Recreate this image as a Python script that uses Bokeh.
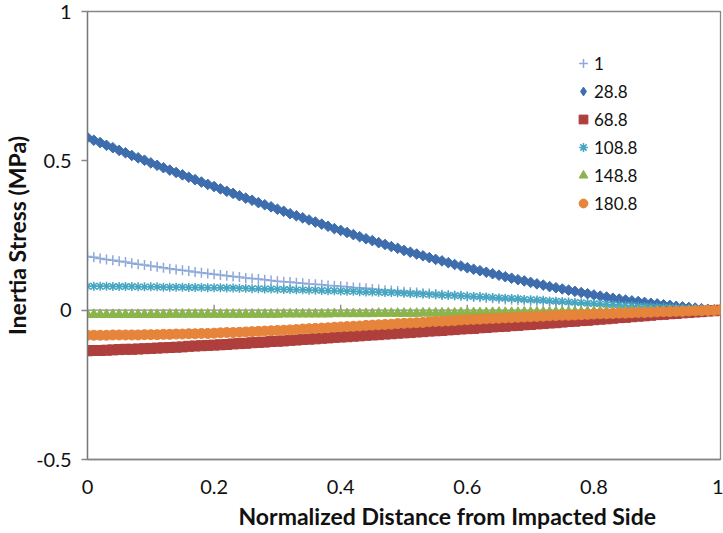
import numpy as np
from bokeh.plotting import figure
from bokeh.models import Range1d, FixedTicker, Span, Legend, LegendItem, Title
from bokeh.embed import file_html
from bokeh.resources import INLINE

# Normalized distance from the impacted side (sampling positions)
distance = [
    0.00, 0.01, 0.02, 0.03, 0.04, 0.05, 0.06, 0.07, 0.08, 0.09,
    0.10, 0.11, 0.12, 0.13, 0.14, 0.15, 0.16, 0.17, 0.18, 0.19,
    0.20, 0.21, 0.22, 0.23, 0.24, 0.25, 0.26, 0.27, 0.28, 0.29,
    0.30, 0.31, 0.32, 0.33, 0.34, 0.35, 0.36, 0.37, 0.38, 0.39,
    0.40, 0.41, 0.42, 0.43, 0.44, 0.45, 0.46, 0.47, 0.48, 0.49,
    0.50, 0.51, 0.52, 0.53, 0.54, 0.55, 0.56, 0.57, 0.58, 0.59,
    0.60, 0.61, 0.62, 0.63, 0.64, 0.65, 0.66, 0.67, 0.68, 0.69,
    0.70, 0.71, 0.72, 0.73, 0.74, 0.75, 0.76, 0.77, 0.78, 0.79,
    0.80, 0.81, 0.82, 0.83, 0.84, 0.85, 0.86, 0.87, 0.88, 0.89,
    0.90, 0.91, 0.92, 0.93, 0.94, 0.95, 0.96, 0.97, 0.98, 0.99,
    1.00,
]

# Inertia stress (MPa) at each time step
stress_1 = [
    0.180, 0.177, 0.173, 0.170, 0.167, 0.164, 0.161, 0.157, 0.154, 0.151,
    0.148, 0.145, 0.142, 0.139, 0.136, 0.134, 0.131, 0.128, 0.125, 0.123,
    0.120, 0.118, 0.115, 0.113, 0.111, 0.108, 0.106, 0.104, 0.102, 0.099,
    0.097, 0.095, 0.094, 0.092, 0.090, 0.088, 0.087, 0.085, 0.083, 0.082,
    0.080, 0.078, 0.076, 0.075, 0.073, 0.071, 0.069, 0.067, 0.066, 0.064,
    0.062, 0.060, 0.059, 0.057, 0.056, 0.054, 0.052, 0.051, 0.049, 0.048,
    0.046, 0.044, 0.043, 0.041, 0.040, 0.038, 0.036, 0.035, 0.033, 0.032,
    0.030, 0.029, 0.027, 0.026, 0.025, 0.023, 0.022, 0.021, 0.020, 0.018,
    0.017, 0.016, 0.015, 0.014, 0.013, 0.012, 0.011, 0.010, 0.009, 0.008,
    0.007, 0.006, 0.006, 0.005, 0.004, 0.004, 0.003, 0.002, 0.001, 0.001,
    0.000,
]

stress_28_8 = [
    0.578, 0.569, 0.561, 0.552, 0.544, 0.535, 0.527, 0.518, 0.510, 0.502,
    0.493, 0.485, 0.477, 0.469, 0.461, 0.453, 0.445, 0.437, 0.429, 0.421,
    0.414, 0.406, 0.398, 0.391, 0.383, 0.375, 0.368, 0.360, 0.353, 0.346,
    0.338, 0.331, 0.323, 0.316, 0.309, 0.302, 0.295, 0.288, 0.281, 0.273,
    0.267, 0.260, 0.253, 0.246, 0.239, 0.233, 0.226, 0.220, 0.213, 0.207,
    0.200, 0.194, 0.188, 0.182, 0.176, 0.170, 0.165, 0.159, 0.153, 0.148,
    0.142, 0.137, 0.132, 0.127, 0.122, 0.117, 0.112, 0.107, 0.102, 0.098,
    0.093, 0.088, 0.084, 0.079, 0.075, 0.071, 0.067, 0.063, 0.059, 0.055,
    0.051, 0.047, 0.044, 0.040, 0.037, 0.034, 0.031, 0.029, 0.026, 0.023,
    0.021, 0.018, 0.016, 0.013, 0.011, 0.009, 0.007, 0.005, 0.003, 0.001,
    0.000,
]

stress_68_8 = [
    -0.136, -0.135, -0.135, -0.134, -0.133, -0.132, -0.131, -0.131, -0.130, -0.129,
    -0.128, -0.127, -0.126, -0.125, -0.124, -0.123, -0.121, -0.120, -0.119, -0.118,
    -0.117, -0.116, -0.115, -0.113, -0.112, -0.111, -0.109, -0.108, -0.107, -0.105,
    -0.104, -0.103, -0.101, -0.100, -0.098, -0.097, -0.096, -0.094, -0.093, -0.091,
    -0.090, -0.089, -0.087, -0.086, -0.084, -0.083, -0.082, -0.080, -0.079, -0.077,
    -0.076, -0.075, -0.073, -0.072, -0.070, -0.069, -0.068, -0.066, -0.065, -0.063,
    -0.062, -0.061, -0.059, -0.058, -0.056, -0.055, -0.054, -0.052, -0.051, -0.049,
    -0.048, -0.046, -0.045, -0.043, -0.042, -0.040, -0.038, -0.037, -0.035, -0.034,
    -0.032, -0.030, -0.029, -0.027, -0.025, -0.024, -0.022, -0.020, -0.019, -0.017,
    -0.015, -0.014, -0.012, -0.011, -0.009, -0.008, -0.006, -0.005, -0.003, -0.002,
    0.000,
]

stress_108_8 = [
    0.080, 0.080, 0.080, 0.080, 0.079, 0.079, 0.079, 0.079, 0.078, 0.078,
    0.078, 0.078, 0.077, 0.077, 0.077, 0.077, 0.076, 0.076, 0.076, 0.075,
    0.075, 0.075, 0.074, 0.074, 0.073, 0.073, 0.072, 0.072, 0.071, 0.071,
    0.070, 0.069, 0.069, 0.068, 0.068, 0.067, 0.067, 0.066, 0.065, 0.065,
    0.064, 0.063, 0.063, 0.062, 0.061, 0.061, 0.060, 0.059, 0.059, 0.058,
    0.057, 0.056, 0.055, 0.054, 0.053, 0.052, 0.051, 0.050, 0.049, 0.048,
    0.047, 0.046, 0.045, 0.044, 0.042, 0.041, 0.040, 0.039, 0.038, 0.036,
    0.035, 0.034, 0.033, 0.031, 0.030, 0.029, 0.027, 0.026, 0.025, 0.023,
    0.022, 0.021, 0.019, 0.018, 0.017, 0.016, 0.015, 0.013, 0.012, 0.011,
    0.010, 0.009, 0.008, 0.007, 0.006, 0.005, 0.004, 0.003, 0.002, 0.001,
    0.000,
]

stress_148_8 = [
    -0.015, -0.015, -0.015, -0.015, -0.015, -0.015, -0.015, -0.015, -0.015, -0.015,
    -0.015, -0.015, -0.015, -0.014, -0.014, -0.014, -0.014, -0.014, -0.014, -0.014,
    -0.014, -0.014, -0.014, -0.014, -0.014, -0.014, -0.014, -0.014, -0.014, -0.014,
    -0.014, -0.013, -0.013, -0.013, -0.013, -0.013, -0.013, -0.013, -0.013, -0.012,
    -0.012, -0.012, -0.012, -0.012, -0.012, -0.012, -0.011, -0.011, -0.011, -0.011,
    -0.011, -0.011, -0.011, -0.010, -0.010, -0.010, -0.010, -0.010, -0.010, -0.009,
    -0.009, -0.009, -0.009, -0.009, -0.008, -0.008, -0.008, -0.008, -0.008, -0.007,
    -0.007, -0.007, -0.007, -0.007, -0.006, -0.006, -0.006, -0.006, -0.006, -0.005,
    -0.005, -0.005, -0.005, -0.005, -0.004, -0.004, -0.004, -0.004, -0.003, -0.003,
    -0.003, -0.003, -0.002, -0.002, -0.002, -0.002, -0.001, -0.001, -0.001, -0.001,
    0.000,
]

stress_180_8 = [
    -0.084, -0.084, -0.084, -0.084, -0.083, -0.083, -0.083, -0.083, -0.083, -0.082,
    -0.082, -0.082, -0.081, -0.081, -0.080, -0.080, -0.079, -0.079, -0.078, -0.078,
    -0.077, -0.076, -0.075, -0.075, -0.074, -0.073, -0.072, -0.071, -0.070, -0.069,
    -0.068, -0.067, -0.066, -0.065, -0.063, -0.062, -0.061, -0.060, -0.059, -0.057,
    -0.056, -0.055, -0.054, -0.053, -0.051, -0.050, -0.049, -0.048, -0.047, -0.045,
    -0.044, -0.043, -0.042, -0.041, -0.039, -0.038, -0.037, -0.036, -0.035, -0.033,
    -0.032, -0.031, -0.030, -0.029, -0.028, -0.027, -0.026, -0.025, -0.024, -0.023,
    -0.022, -0.021, -0.020, -0.019, -0.018, -0.017, -0.017, -0.016, -0.015, -0.014,
    -0.013, -0.012, -0.012, -0.011, -0.010, -0.010, -0.009, -0.008, -0.008, -0.007,
    -0.006, -0.005, -0.005, -0.004, -0.004, -0.003, -0.002, -0.002, -0.001, -0.001,
    0.000,
]

series_names = ["1", "28.8", "68.8", "108.8", "148.8", "180.8"]
series_values = [stress_1, stress_28_8, stress_68_8, stress_108_8, stress_148_8, stress_180_8]

x_ticks = [0, 0.2, 0.4, 0.6, 0.8, 1]
x_tick_labels = ["0", "0.2", "0.4", "0.6", "0.8", "1"]
y_ticks = [-0.5, 0, 0.5, 1]
y_tick_labels = ["-0.5", "0", "0.5", "1"]
zero_axis_ticks = [0.2, 0.4, 0.6, 0.8]

FONT = "Lato"
AXIS_GRAY = "#868686"
TEXT = "#111111"

# marker style per series: (marker in plot, size, angle, legend key marker, colour)
styles = [
    ("cross", 10, 0.0, "cross", "#8EA8DA"),
    ("square", 7.5, 0.785398, "diamond", "#3E6DAE"),
    ("square", 10, 0.0, "square", "#AE3F3D"),
    ("asterisk", 9, 0.0, "asterisk", "#46A6C2"),
    ("triangle", 10, 0.0, "triangle", "#8BB54B"),
    ("circle", 10, 0.0, "circle", "#E5843A"),
]

p = figure(
    width=723, height=533,
    output_backend="svg", toolbar_location=None,
    x_range=Range1d(0, 1), y_range=Range1d(-0.5, 1),
    min_border_left=86, min_border_right=3,
    min_border_top=11, min_border_bottom=74,
    background_fill_color="white", border_fill_color="white",
)
p.grid.visible = False
p.outline_line_color = AXIS_GRAY
p.outline_line_width = 1.3

# horizontal axis line through zero with its small tick marks
p.add_layout(Span(location=0, dimension="width", line_color=AXIS_GRAY,
                  line_width=1.3, level="underlay"))
p.segment(x0=zero_axis_ticks, x1=zero_axis_ticks,
          y0=[0] * len(zero_axis_ticks), y1=[0.018] * len(zero_axis_ticks),
          line_color=AXIS_GRAY, line_width=1.3)


def marker_kwargs(marker, color):
    if marker in ("cross", "asterisk"):
        return dict(line_color=color, line_width=1.5, fill_color=None)
    return dict(line_color=color, fill_color=color, line_width=1)


items = []
for name, vals, (marker, size, angle, key_marker, color) in zip(series_names, series_values, styles):
    r = p.scatter(distance, vals, marker=marker, size=size, angle=angle,
                  **marker_kwargs(marker, color))
    if key_marker != marker:
        # rotated markers lose their angle in the legend, so the key gets its own
        # (undrawn) renderer with the upright marker shape
        r = p.scatter(np.array([np.nan]), np.array([np.nan]), marker=key_marker,
                      size=size, **marker_kwargs(key_marker, color))
    items.append(LegendItem(label=name, renderers=[r]))

legend = Legend(items=items, location=(485, 245),
                glyph_width=22, glyph_height=22, spacing=6, label_standoff=0,
                padding=0, margin=0, border_line_alpha=0, background_fill_alpha=0,
                label_text_font=FONT, label_text_font_size="17px",
                label_text_color=TEXT)
p.add_layout(legend, "center")

# x axis
xa = p.xaxis[0]
xa.ticker = FixedTicker(ticks=x_ticks)
xa.major_label_overrides = dict(zip(x_ticks, x_tick_labels))
xa.major_tick_out = 0
xa.major_tick_in = 0
xa.minor_tick_out = 0
xa.minor_tick_in = 0
xa.axis_line_color = AXIS_GRAY
xa.axis_line_width = 1.3
xa.major_label_standoff = 20
xa.major_label_text_font = FONT
xa.major_label_text_font_size = "20px"
xa.major_label_text_color = TEXT

# x axis title, set right of the frame centre
p.add_layout(Title(text="Normalized Distance from Impacted Side", align="left",
                   offset=151, text_font=FONT, text_font_style="bold",
                   text_font_size="23px", text_color=TEXT, standoff=6), "below")

# y axis
ya = p.yaxis[0]
ya.ticker = FixedTicker(ticks=y_ticks)
ya.major_label_overrides = dict(zip(y_ticks, y_tick_labels))
ya.major_tick_out = 6
ya.major_tick_in = 0
ya.minor_tick_out = 0
ya.minor_tick_in = 0
ya.major_tick_line_color = AXIS_GRAY
ya.major_tick_line_width = 1.3
ya.axis_line_color = "#777777"
ya.axis_line_width = 1.3
ya.major_label_standoff = 10
ya.major_label_text_font = FONT
ya.major_label_text_font_size = "20px"
ya.major_label_text_color = TEXT
ya.axis_label = "Inertia Stress (MPa)"
ya.axis_label_text_font = FONT
ya.axis_label_text_font_style = "bold"
ya.axis_label_text_font_size = "23px"
ya.axis_label_text_color = TEXT
ya.axis_label_standoff = 2

open("out.html", "w").write(file_html(p, INLINE))
